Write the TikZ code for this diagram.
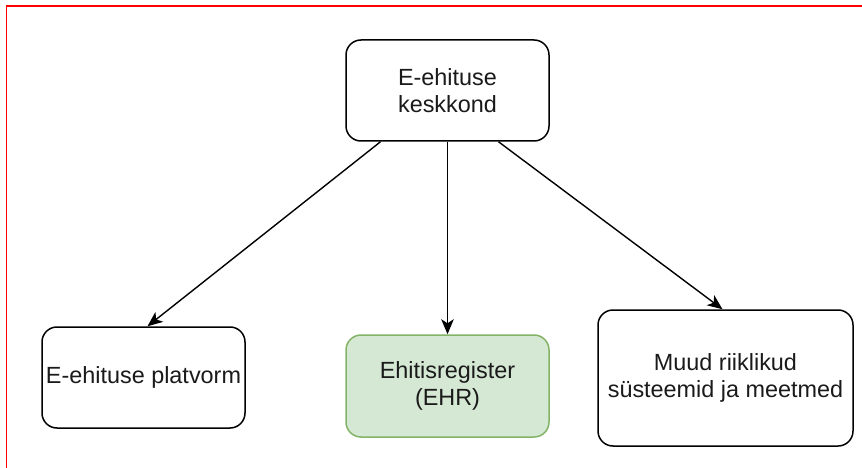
\documentclass[tikz,border=0pt]{standalone}
\usepackage{fontspec}
\setmainfont{Liberation Sans}
\usetikzlibrary{arrows.meta,calc}
\definecolor{edgered}{HTML}{FF0000}
\definecolor{regfill}{HTML}{D5E8D4}
\definecolor{regline}{HTML}{82B366}
\definecolor{txt}{HTML}{1A1A1A}
\tikzset{
  box/.style={draw=black, line width=1.5pt, rounded corners=15pt, fill=white,
    align=center, inner sep=0pt, text=txt,
    font=\fontsize{23.4}{27}\selectfont},
  greenbox/.style={box, draw=regline, fill=regfill},
  link/.style={draw=black, line width=1.4pt,
    -{Stealth[length=15pt,width=12.5pt,inset=4pt]}}
}
\begin{document}
\begin{tikzpicture}[x=1pt,y=-1pt]
  \useasboundingbox (0,0) rectangle (862,468);
  % frame edges
  \draw[edgered, line width=1.2pt] (6.5,468) -- (6.5,6) -- (862,6);

  % nodes
  \node[box, minimum width=203pt, minimum height=101pt] (env) at (447.5,90.5)
    {E-ehituse\\keskkond};
  \node[box, minimum width=203pt, minimum height=101pt] (plat) at (143.5,377.5)
    {E-ehituse platvorm};
  \node[greenbox, minimum width=203pt, minimum height=102pt] (ehr) at (447.5,386)
    {Ehitisregister\\(EHR)};
  \node[box, minimum width=255pt, minimum height=136pt] (other) at (725.5,378)
    {Muud riiklikud\\süsteemid ja meetmed};

  % connectors
  \draw[link] ([xshift=-67pt]env.south) -- ([xshift=4pt]plat.north);
  \draw[link] (env.south) -- (ehr.north);
  \draw[link] ([xshift=51pt]env.south) -- ([xshift=-3pt]other.north);
\end{tikzpicture}
\end{document}
